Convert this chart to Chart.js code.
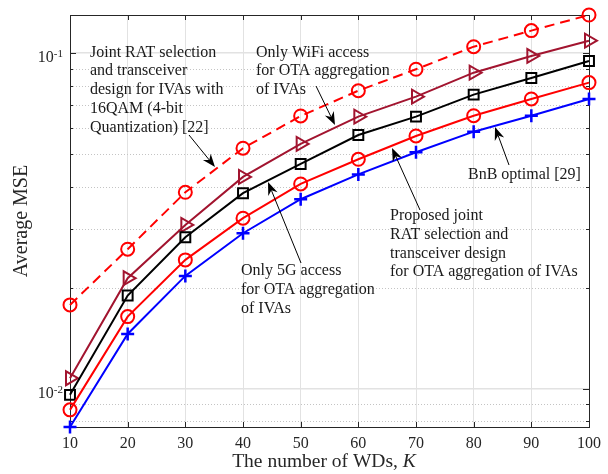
<!DOCTYPE html>
<html><head><meta charset="utf-8">
<script src="https://cdn.jsdelivr.net/npm/chart.js@4.4.1/dist/chart.umd.min.js"></script>
<style>html,body{margin:0;padding:0;background:#fff;}#wrap{width:608px;height:474px;}</style>
</head><body><div id="wrap"><canvas id="c" width="608" height="474"></canvas></div>
<script>
const K = [10, 20, 30, 40, 50, 60, 70, 80, 90, 100];
const mseBnB      = [0.00770, 0.01458, 0.02171, 0.02909, 0.03674, 0.04355, 0.05070, 0.05839, 0.06516, 0.07308];
const mseProposed = [0.00866, 0.01642, 0.02423, 0.03225, 0.04080, 0.04832, 0.05669, 0.06516, 0.07308, 0.08175];
const mse5G       = [0.00960, 0.01897, 0.02830, 0.03828, 0.04680, 0.05708, 0.06474, 0.07527, 0.08440, 0.09486];
const mseWiFi     = [0.01076, 0.02137, 0.03080, 0.04281, 0.05368, 0.06474, 0.07425, 0.08752, 0.09817, 0.10900];
const mse16QAM    = [0.01779, 0.02607, 0.03853, 0.05212, 0.06503, 0.07735, 0.08960, 0.10460, 0.11680, 0.13000];
const xTicks = [10, 20, 30, 40, 50, 60, 70, 80, 90, 100];
const yMajorTicks = [0.01, 0.1];
const yMajorLabels = [["10", "-2"], ["10", "-1"]];
const yMinorTicks = [0.008, 0.009, 0.02, 0.03, 0.04, 0.05, 0.06, 0.07, 0.08, 0.09];
const yMin = 0.0077, yMax = 0.13;

const SERIF = "'Liberation Serif', 'Times New Roman', serif";
const AX = '#262626';

function pts(arr){ return K.map((k,i)=>({x:k, y:arr[i]})); }

function arrow(ctx, x1, y1, x2, y2){
  const ang = Math.atan2(y2-y1, x2-x1);
  const L = 13, W = 5, N = 9;
  const bx = x2 - Math.cos(ang)*N, by = y2 - Math.sin(ang)*N;
  ctx.beginPath(); ctx.moveTo(x1,y1); ctx.lineTo(bx,by); ctx.stroke();
  const px = -Math.sin(ang), py = Math.cos(ang);
  const cx = x2 - Math.cos(ang)*L, cy = y2 - Math.sin(ang)*L;
  ctx.beginPath();
  ctx.moveTo(x2,y2);
  ctx.lineTo(cx + px*W, cy + py*W);
  ctx.lineTo(bx, by);
  ctx.lineTo(cx - px*W, cy - py*W);
  ctx.closePath(); ctx.fill();
}

const annotations = [
  {x:90,  y:56.7, lines:["Joint RAT selection","and transceiver","design for IVAs with","16QAM (4-bit","Quantization) [22]"]},
  {x:256, y:56.7, lines:["Only WiFi access","for OTA aggregation","of IVAs"]},
  {x:241, y:275,  lines:["Only 5G access","for OTA aggregation","of IVAs"]},
  {x:390, y:220,  lines:["Proposed joint","RAT selection and","transceiver design","for OTA aggregation of IVAs"]},
  {x:468, y:179.3,lines:["BnB optimal [29]"]}
];
const arrows = [
  [189,135,215,167],[316,86,335,125],[301,263,268,182],[420,210,392,148],[509,165,495,127]
];

const deco = {
  id:'deco',
  beforeDatasetsDraw(chart){
    const {ctx, chartArea:a, scales:{x,y}} = chart;
    ctx.save();
    // minor dotted grid
    ctx.strokeStyle = '#c4c4c4'; ctx.lineWidth = 1; ctx.setLineDash([1,2]);
    yMinorTicks.forEach(v=>{
      const py = Math.round(y.getPixelForValue(v))+0.5;
      ctx.beginPath(); ctx.moveTo(a.left,py); ctx.lineTo(a.right,py); ctx.stroke();
    });
    ctx.setLineDash([]);
    // frame
    ctx.strokeStyle = AX; ctx.lineWidth = 1;
    ctx.strokeRect(Math.round(a.left)+0.5, Math.round(a.top)+0.5, Math.round(a.right-a.left), Math.round(a.bottom-a.top));
    // x ticks
    xTicks.forEach(v=>{
      const px = Math.round(x.getPixelForValue(v))+0.5;
      ctx.beginPath(); ctx.moveTo(px,a.bottom); ctx.lineTo(px,a.bottom-5);
      ctx.moveTo(px,a.top); ctx.lineTo(px,a.top+5); ctx.stroke();
    });
    // y ticks
    const yt = (v,len)=>{
      const py = Math.round(y.getPixelForValue(v))+0.5;
      ctx.beginPath(); ctx.moveTo(a.left,py); ctx.lineTo(a.left+len,py);
      ctx.moveTo(a.right,py); ctx.lineTo(a.right-len,py); ctx.stroke();
    };
    yMajorTicks.forEach(v=>yt(v,6));
    yMinorTicks.forEach(v=>yt(v,3));
    ctx.restore();
  },
  afterDraw(chart){
    const {ctx, chartArea:a, scales:{x,y}} = chart;
    ctx.save();
    ctx.fillStyle = AX;
    // y tick labels with superscript
    yMajorTicks.forEach((v,i)=>{
      const py = y.getPixelForValue(v);
      const [base, exp] = yMajorLabels[i];
      ctx.font = '11px ' + SERIF;
      const we = ctx.measureText(exp).width;
      ctx.textAlign = 'right'; ctx.textBaseline = 'alphabetic';
      ctx.fillText(exp, 63, py + 4);
      ctx.font = '16px ' + SERIF;
      ctx.fillText(base, 63 - we, py + 9);
    });
    // axis titles
    ctx.textBaseline = 'alphabetic';
    ctx.font = '19.5px ' + SERIF;
    const t1 = 'The number of WDs, ';
    ctx.font = 'italic 19.5px ' + SERIF;
    const wK = ctx.measureText('K').width;
    ctx.font = '19.5px ' + SERIF;
    const w1 = ctx.measureText(t1).width;
    const sx = 324 - (w1+wK)/2;
    ctx.textAlign = 'left';
    ctx.fillText(t1, sx, 467);
    ctx.font = 'italic 19.5px ' + SERIF;
    ctx.fillText('K', sx + w1, 467);
    ctx.save();
    ctx.translate(22, (a.top+a.bottom)/2);
    ctx.rotate(-Math.PI/2);
    ctx.font = '20px ' + SERIF; ctx.textAlign = 'center'; ctx.textBaseline = 'middle';
    ctx.fillText('Average MSE', 0, 0);
    ctx.restore();
    // annotations
    ctx.font = '16px ' + SERIF; ctx.textAlign = 'left'; ctx.textBaseline = 'alphabetic';
    ctx.fillStyle = '#1a1a1a';
    annotations.forEach(an=>{
      an.lines.forEach((l,j)=>ctx.fillText(l, an.x, an.y + j*18.75));
    });
    ctx.strokeStyle = '#000'; ctx.fillStyle = '#000'; ctx.lineWidth = 1;
    arrows.forEach(r=>arrow(ctx, ...r));
    ctx.restore();
  }
};

new Chart(document.getElementById('c'), {
  type:'line',
  data:{datasets:[
    {label:'BnB optimal [29]', data:pts(mseBnB), borderColor:'#0000ff', backgroundColor:'rgba(0,0,0,0)', borderWidth:2,
     pointStyle:'cross', pointRadius:6.5, pointBorderWidth:2.5, pointBorderColor:'#0000ff', clip:false},
    {label:'Proposed', data:pts(mseProposed), borderColor:'#ff0000', backgroundColor:'rgba(0,0,0,0)', borderWidth:2,
     pointStyle:'circle', pointRadius:6.5, pointBorderWidth:2, pointBackgroundColor:'rgba(0,0,0,0)', clip:false},
    {label:'Only 5G', data:pts(mse5G), borderColor:'#000000', backgroundColor:'rgba(0,0,0,0)', borderWidth:2,
     pointStyle:'rect', pointRadius:7, pointBorderWidth:2, pointBackgroundColor:'rgba(0,0,0,0)', clip:false},
    {label:'Only WiFi', data:pts(mseWiFi), borderColor:'#a2142f', backgroundColor:'rgba(0,0,0,0)', borderWidth:2,
     pointStyle:'triangle', pointRotation:90, pointRadius:8, pointBorderWidth:2, pointBackgroundColor:'rgba(0,0,0,0)', clip:false},
    {label:'16QAM', data:pts(mse16QAM), borderColor:'#ff0000', backgroundColor:'rgba(0,0,0,0)', borderWidth:2, borderDash:[10,6],
     pointStyle:'circle', pointRadius:6.5, pointBorderWidth:2, pointBackgroundColor:'rgba(0,0,0,0)', clip:false}
  ]},
  options:{
    responsive:false, animation:false, devicePixelRatio:1,
    layout:{padding:{top:15, right:17, left:0, bottom:0}},
    plugins:{legend:{display:false}, tooltip:{enabled:false}},
    elements:{line:{tension:0}},
    scales:{
      x:{type:'linear', min:10, max:100,
         afterBuildTicks:s=>{s.ticks = xTicks.map(v=>({value:v}));},
         afterFit:s=>{s.height = 47;},
         grid:{color:'#e2e2e2', lineWidth:1, drawTicks:false},
         border:{display:false},
         ticks:{font:{family:SERIF, size:16}, color:AX, padding:7, maxRotation:0}},
      y:{type:'logarithmic', min:yMin, max:yMax,
         afterBuildTicks:s=>{s.ticks = yMajorTicks.map(v=>({value:v}));},
         afterFit:s=>{s.width = 70;},
         grid:{color:'#e2e2e2', lineWidth:1.5, drawTicks:false},
         border:{display:false},
         ticks:{display:false}}
    }
  },
  plugins:[deco]
});
</script></body></html>
